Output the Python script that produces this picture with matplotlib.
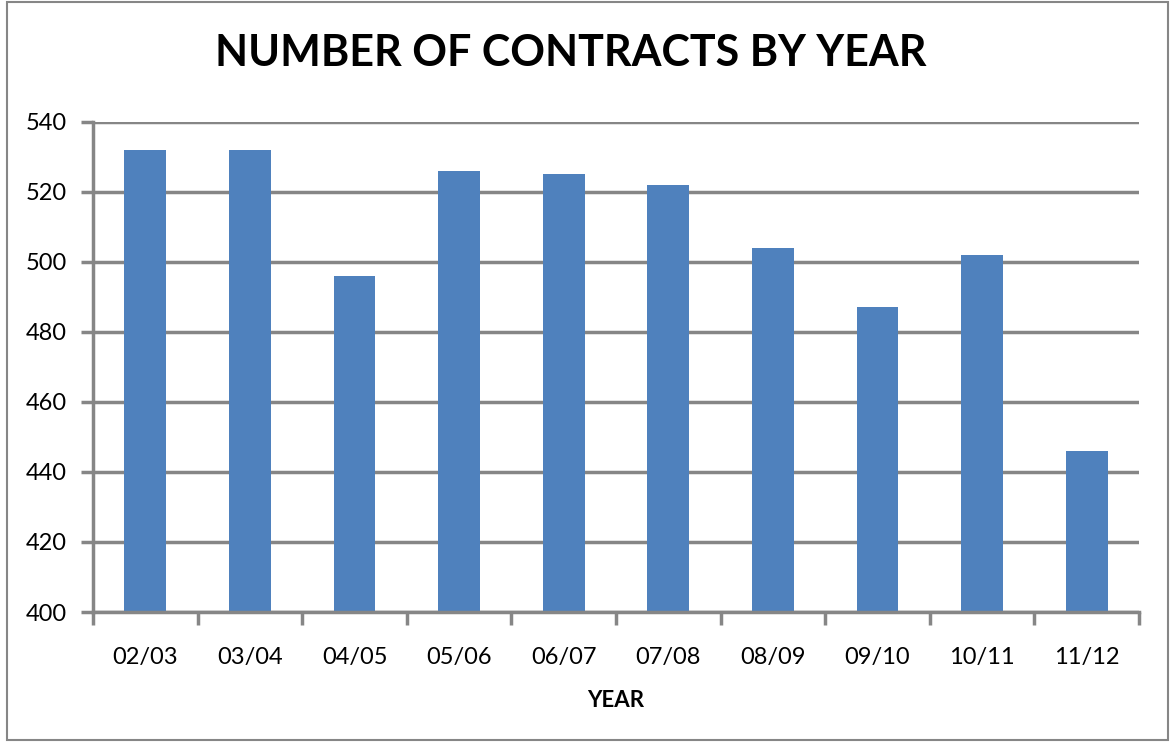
import matplotlib.pyplot as plt
from matplotlib.patches import Rectangle

years = ["02/03", "03/04", "04/05", "05/06", "06/07", "07/08", "08/09", "09/10", "10/11", "11/12"]
contracts = [532, 532, 496, 526, 525, 522, 504, 487, 502, 446]
y_ticks = [400, 420, 440, 460, 480, 500, 520, 540]

GRAY = "#868686"
BLUE = "#4f81bd"
FONT = "Lato"

fig = plt.figure(figsize=(11.72, 7.42), dpi=100)
ax = fig.add_axes([0.0794, 0.1752, 0.8924, 0.6604])

x = range(len(years))
ax.bar(x, contracts, width=0.40, color=BLUE, zorder=3)

ax.set_ylim(400, 540)
ax.set_xlim(-0.5, len(years) - 0.5)
ax.set_yticks(y_ticks)
ax.set_yticklabels([str(v) for v in y_ticks], fontsize=17, family=FONT)
ax.set_xticks(x)
ax.set_xticklabels(years, fontsize=17, family=FONT)
# category boundary tick marks on the x axis
ax.set_xticks([i - 0.5 for i in range(len(years) + 1)], minor=True)
ax.tick_params(axis="x", which="major", length=0, pad=25)
ax.tick_params(axis="x", which="minor", length=9, width=2.5, color=GRAY)
ax.tick_params(axis="y", length=9, width=2.5, color=GRAY, pad=10)

ax.yaxis.grid(True, color=GRAY, linewidth=2.5, zorder=1)
for s in ["top", "right"]:
    ax.spines[s].set_visible(False)
for s in ["left", "bottom"]:
    ax.spines[s].set_color(GRAY)
    ax.spines[s].set_linewidth(2.5)
    ax.spines[s].set_zorder(4)

ax.set_xlabel("YEAR", fontsize=16, fontweight="bold", family=FONT, labelpad=16)
fig.text(0.487, 0.928, "NUMBER OF CONTRACTS BY YEAR", ha="center", va="center",
         fontsize=31, fontweight="bold", family=FONT)

fig.patches.append(Rectangle((0.006, 0.003), 0.991, 0.994, transform=fig.transFigure,
                             fill=False, edgecolor=GRAY, linewidth=1.5))

fig.savefig("out.png", dpi=100)
